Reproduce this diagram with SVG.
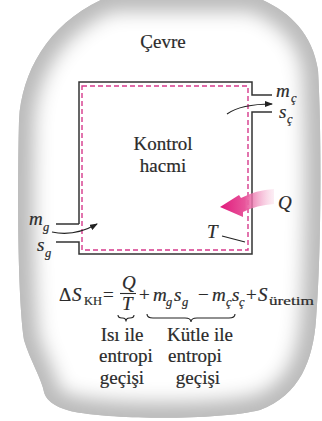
<svg xmlns="http://www.w3.org/2000/svg" width="322" height="421" viewBox="0 0 322 421">
<defs>
<path id="blobp" d="M110,-4 L253,-4 C285,8 312,30 318,70 C322,140 321,260 316,320 C313,360 300,395 260,410 C220,420 120,420 75,412 C55,408 46,400 44,392 C42,380 30,360 24,340 C18,300 17,200 19,120 C22,70 50,20 110,-4 Z"/>
<clipPath id="blobclip"><use href="#blobp"/></clipPath>
<filter id="soft" x="-20%" y="-20%" width="140%" height="140%"><feGaussianBlur stdDeviation="9"/></filter>
<linearGradient id="qg" x1="220" y1="0" x2="275" y2="0" gradientUnits="userSpaceOnUse">
<stop offset="0" stop-color="#e01a7c"/>
<stop offset="0.45" stop-color="#e8559b"/>
<stop offset="1" stop-color="#f7d0e2" stop-opacity="0.3"/>
</linearGradient>
<marker id="ah" markerWidth="8" markerHeight="6" refX="7" refY="3" orient="auto" markerUnits="userSpaceOnUse">
<path d="M0,0 L8,3 L0,6 Z" fill="#222"/>
</marker>
<style>
text{font-family:"Liberation Serif","Times New Roman",serif;fill:#2b2b2b;stroke:#2b2b2b;stroke-width:0.2}
.t{font-size:19px}
.e{font-size:19px}
.s{font-size:12.5px}
.i{font-style:italic}
.wall{fill:none;stroke:#333;stroke-width:1.5}
.dash{fill:none;stroke:#d63a8c;stroke-width:1.4;stroke-dasharray:5,3}
.conn{fill:none;stroke:#222;stroke-width:1.1}
</style>
</defs>

<g id="surroundings">
<g clip-path="url(#blobclip)">
<rect x="0" y="-10" width="322" height="440" fill="#bcbcbc"/>
<use href="#blobp" fill="#ffffff" stroke="#bcbcbc" stroke-width="34" filter="url(#soft)"/>
</g>
<text class="t" x="163" y="48" text-anchor="middle">Çevre</text>
</g>

<g id="control-volume">
<path class="wall" d="M79,224 L79,82 L252,82 L252,95 L272,95 M272,112 L252,112 L252,254 L79,254 L79,242 L56,242 M56,224 L79,224"/>
<rect class="dash" x="82" y="86" width="166" height="164"/>
<text class="t" x="163" y="150" text-anchor="middle">Kontrol</text>
<text class="t" x="163" y="172" text-anchor="middle">hacmi</text>
</g>

<g id="outlet">
<text class="e i" x="276" y="97">m</text>
<text class="s i" x="291" y="102">ç</text>
<text class="e i" x="279" y="118">s</text>
<text class="s i" x="287" y="123">ç</text>
</g>

<g id="inlet">
<text class="e i" x="29" y="225">m</text>
<text class="s i" x="43" y="231">g</text>
<text class="e i" x="37" y="251">s</text>
<text class="s i" x="45" y="257">g</text>
</g>

<g id="heat">
<path d="M274,189 Q256,190 241,198 L239,195 L220,207 L243,217 L243,212 Q257,205 274,204 Z" fill="url(#qg)"/>
<text class="e i" x="278" y="209">Q</text>
<text class="e i" x="207" y="238">T</text>
</g>

<g id="connectors">
<path class="conn" d="M52,232 Q74,237 97,224" marker-end="url(#ah)"/>
<path class="conn" d="M227,114 Q241,104 272,104" marker-end="url(#ah)"/>
<path class="conn" d="M222,236 L245,242"/>
</g>

<g id="equation">
<text class="e" x="59" y="301">Δ</text>
<text class="e i" x="72" y="301">S</text>
<text class="s" x="84" y="305">KH</text>
<text class="e" x="103" y="301">=</text>
<text class="e i" x="122" y="289" font-size="18">Q</text>
<line x1="120" y1="293.5" x2="136" y2="293.5" stroke="#2b2b2b" stroke-width="1.1"/>
<text class="e i" x="122" y="310" font-size="18">T</text>
<text class="e" x="139" y="301">+</text>
<text class="e i" x="153" y="301">m</text>
<text class="s i" x="166" y="306">g</text>
<text class="e i" x="174" y="301">s</text>
<text class="s i" x="182" y="306">g</text>
<text class="e" x="198" y="301">−</text>
<text class="e i" x="212" y="301">m</text>
<text class="s i" x="226" y="306">ç</text>
<text class="e i" x="232" y="301">s</text>
<text class="s i" x="239" y="306">ç</text>
<text class="e" x="246" y="301">+</text>
<text class="e i" x="258" y="301">S</text>
<text class="s" x="269" y="305" textLength="45" lengthAdjust="spacingAndGlyphs">üretim</text>
<path class="conn" d="M118,315 q0,3 4,3 h0.5 q3.5,0 3.5,3.5 q0,-3.5 3.5,-3.5 h0.5 q4,0 4,-3"/>
<path class="conn" d="M147,314 q0,4 6,4 h32 q6,0 6,4 q0,-4 6,-4 h32 q6,0 6,-4"/>
</g>

<g id="labels">
<text class="t" x="122" y="341" text-anchor="middle">Isı ile</text>
<text class="t" x="126" y="362" text-anchor="middle">entropi</text>
<text class="t" x="122" y="384" text-anchor="middle">geçişi</text>
<text class="t" x="200" y="341" text-anchor="middle">Kütle ile</text>
<text class="t" x="195" y="362" text-anchor="middle">entropi</text>
<text class="t" x="198" y="384" text-anchor="middle">geçişi</text>
</g>
</svg>
